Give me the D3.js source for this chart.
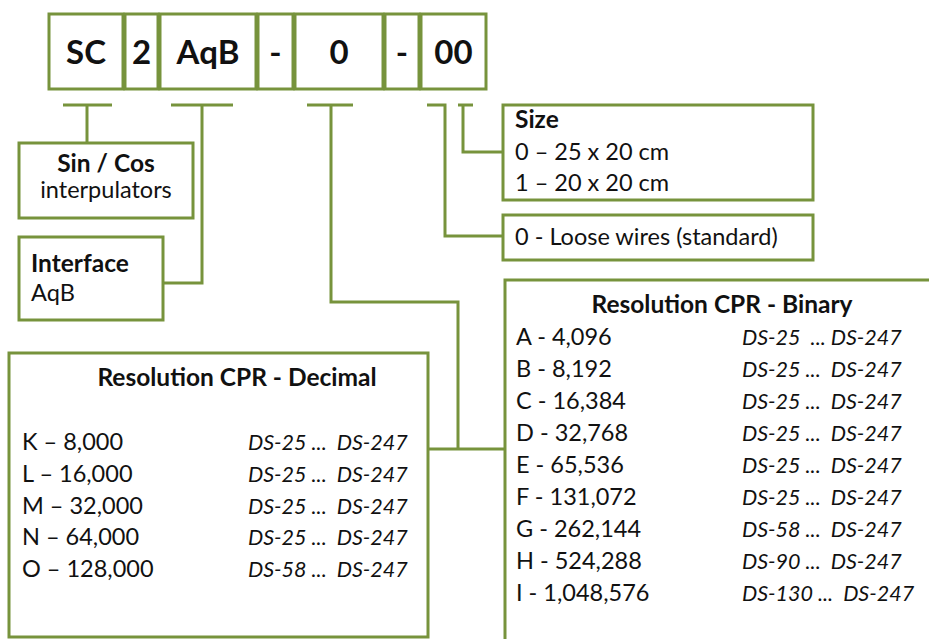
<!DOCTYPE html>
<html>
<head>
<meta charset="utf-8">
<script src="https://cdn.jsdelivr.net/npm/d3@7"></script>
<style>
  body { margin: 0; background: #fff; }
  svg text { font-family: Lato, "Open Sans", sans-serif; fill: #111; white-space: pre; }
</style>
</head>
<body>
<svg class="code" width="929" height="639"></svg>
<script>
// ordering code segments
var segments = ["SC", "2", "AqB", "-", "0", "-", "00"];

// decimal resolutions
var decCodes = ["K \u2013 8,000", "L \u2013 16,000", "M \u2013 32,000", "N \u2013 64,000", "O \u2013 128,000"];
var decRange = ["DS-25 ...  DS-247", "DS-25 ...  DS-247", "DS-25 ...  DS-247", "DS-25 ...  DS-247", "DS-58 ...  DS-247"];

// binary resolutions
var binCodes = ["A - 4,096", "B - 8,192", "C - 16,384", "D - 32,768", "E - 65,536", "F - 131,072", "G - 262,144", "H - 524,288", "I - 1,048,576"];
var binRange = ["DS-25  ... DS-247", "DS-25 ...  DS-247", "DS-25 ...  DS-247", "DS-25 ...  DS-247", "DS-25 ...  DS-247", "DS-25 ...  DS-247", "DS-58 ...  DS-247", "DS-90 ...  DS-247", "DS-130 ...  DS-247"];

var sizeLines = ["0 \u2013 25 x 20 cm", "1 \u2013 20 x 20 cm"];

(function () {

    var green = "#77933c";
    var svg = d3.select("svg.code");

    // --- top code boxes ---
    var segW = [74, 33, 96, 35, 88, 34, 65];
    var segGap = 2;
    var segX0 = d3.cumsum([49].concat(segW.slice(0, -1).map(function (w) { return w + segGap; })));

    var codeG = svg.append("g").selectAll("g")
        .data(segments)
        .enter().append("g")
        .attr("transform", function (d, i) { return "translate(" + segX0[i] + ",14)"; });

    codeG.append("rect")
        .attr("width", function (d, i) { return segW[i]; })
        .attr("height", 75)
        .attr("fill", "#fff")
        .attr("stroke", green)
        .attr("stroke-width", 3);

    codeG.append("text")
        .attr("x", function (d, i) { return segW[i] / 2; })
        .attr("y", 50)
        .attr("text-anchor", "middle")
        .attr("font-size", 33)
        .attr("font-weight", "bold")
        .text(function (d) { return d; });

    // --- connectors ---
    var links = [
        [[63, 105], [112, 105]], [[87, 105], [87, 143]],
        [[171, 105], [233, 105]], [[202, 105], [202, 283], [163, 283]],
        [[307, 105], [353, 105]], [[331, 105], [331, 302], [458, 302], [458, 449]],
        [[428, 449], [505, 449]],
        [[427, 105], [445, 105], [445, 236], [503, 236]],
        [[458, 105], [473, 105]], [[463, 105], [463, 152], [503, 152]]
    ];

    svg.append("g").selectAll("path")
        .data(links)
        .enter().append("path")
        .attr("d", d3.line())
        .attr("fill", "none")
        .attr("stroke", green)
        .attr("stroke-width", 3);

    function box(x, y, w, h) {
        svg.append("rect")
            .attr("x", x).attr("y", y)
            .attr("width", w).attr("height", h)
            .attr("fill", "#fff")
            .attr("stroke", green)
            .attr("stroke-width", 3);
    }

    function label(x, y, s, opts) {
        opts = opts || {};
        return svg.append("text")
            .attr("x", x).attr("y", y)
            .attr("font-size", opts.size || (opts.bold ? 24.5 : opts.italic ? 21.5 : 23.5))
            .attr("font-weight", opts.bold ? "bold" : null)
            .attr("font-style", opts.italic ? "italic" : null)
            .attr("text-anchor", opts.anchor || "start")
            .text(s);
    }

    // sin / cos
    box(19, 143, 174, 75);
    label(106, 172, "Sin / Cos", { bold: true, anchor: "middle" });
    label(106, 198, "interpulators", { anchor: "middle" });

    // interface
    box(19, 237, 144, 83);
    label(31, 272, "Interface", { bold: true });
    label(31, 301, "AqB");

    // size
    box(503, 105, 310, 95);
    label(515, 128, "Size", { bold: true });
    var sizeY = d3.scalePoint().domain(d3.range(sizeLines.length)).range([160, 191]);
    sizeLines.forEach(function (s, i) { label(515, sizeY(i), s); });

    // loose wires
    box(503, 215, 310, 45);
    label(515, 245, "0 - Loose wires (standard)");

    // decimal table
    box(9, 353, 419, 284);
    label(237, 386, "Resolution CPR - Decimal", { bold: true, anchor: "middle" });
    var decY = d3.scalePoint().domain(d3.range(decCodes.length)).range([450, 577]);
    decCodes.forEach(function (s, i) {
        label(22, decY(i), s);
        label(248, decY(i), decRange[i], { italic: true });
    });

    // binary table
    box(505, 280, 440, 380);
    label(722, 313, "Resolution CPR - Binary", { bold: true, anchor: "middle" });
    var binY = d3.scalePoint().domain(d3.range(binCodes.length)).range([345, 601]);
    binCodes.forEach(function (s, i) {
        label(516, binY(i), s);
        label(742, binY(i), binRange[i], { italic: true });
    });

})();
</script>
</body>
</html>
